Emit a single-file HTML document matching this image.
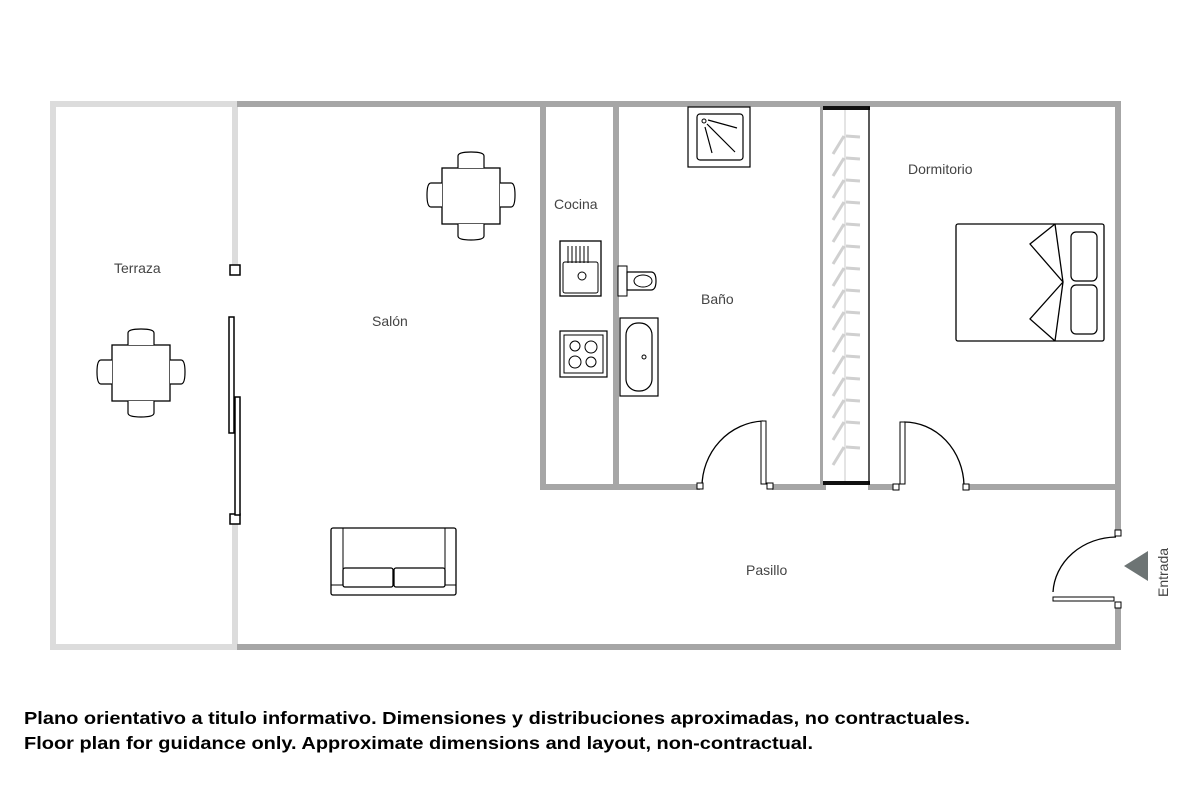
<!DOCTYPE html>
<html><head><meta charset="utf-8"><style>
html,body{margin:0;padding:0;background:#fff;}
svg{display:block;}
text{font-family:"Liberation Sans",Arial,sans-serif;}
</style></head><body>
<svg width="1200" height="800" viewBox="0 0 1200 800" xmlns="http://www.w3.org/2000/svg">
<defs>
<g id="table">
  <rect x="0" y="0" width="58" height="56" fill="#fff" stroke="#000" stroke-width="1.3"/>
  <path d="M16,0 V-12 Q16,-16 29,-16 Q42,-16 42,-12 V0" fill="#fff" stroke="#000" stroke-width="1.2"/>
  <path d="M16,56 V68 Q16,72 29,72 Q42,72 42,68 V56" fill="#fff" stroke="#000" stroke-width="1.2"/>
  <path d="M0,15 H-11 Q-15,15 -15,27 Q-15,39 -11,39 H0" fill="#fff" stroke="#000" stroke-width="1.2"/>
  <path d="M58,15 H69 Q73,15 73,27 Q73,39 69,39 H58" fill="#fff" stroke="#000" stroke-width="1.2"/>
</g>
<g id="hanger">
  <path d="M833,18 L844,0 M846,0 L860,1" stroke="#d0d0d0" stroke-width="3" fill="none"/>
</g>
</defs>
<g fill="#dcdcdc">
  <rect x="50" y="101" width="190" height="6"/>
  <rect x="50" y="644" width="190" height="6"/>
  <rect x="50" y="101" width="6" height="549"/>
  <rect x="232" y="101" width="6" height="168"/>
  <rect x="232" y="524" width="6" height="126"/>
</g>
<g fill="#a6a6a6">
  <rect x="237" y="101" width="884" height="6"/>
  <rect x="237" y="644" width="884" height="6"/>
  <rect x="1115" y="101" width="6" height="432"/>
  <rect x="1115" y="608" width="6" height="42"/>
  <rect x="540" y="101" width="6" height="389"/>
  <rect x="613" y="101" width="6" height="389"/>
  <rect x="820" y="101" width="6" height="389"/>
  <rect x="540" y="484" width="160" height="6"/>
  <rect x="772" y="484" width="52" height="6"/>
  <rect x="968" y="484" width="153" height="6"/>
  <rect x="868" y="484" width="28" height="6"/>
</g>
<rect x="823" y="107" width="47" height="377" fill="#fff"/>
<rect x="823" y="106" width="47" height="4" fill="#111"/>
<rect x="823" y="481" width="47" height="4" fill="#111"/>
<line x1="869" y1="107" x2="869" y2="484" stroke="#000" stroke-width="1.3"/>
<line x1="845" y1="110" x2="845" y2="481" stroke="#c8c8c8" stroke-width="1"/>
<use href="#hanger" y="136"/><use href="#hanger" y="158"/><use href="#hanger" y="180"/>
<use href="#hanger" y="202"/><use href="#hanger" y="224"/><use href="#hanger" y="246"/>
<use href="#hanger" y="268"/><use href="#hanger" y="290"/><use href="#hanger" y="312"/>
<use href="#hanger" y="334"/><use href="#hanger" y="356"/><use href="#hanger" y="378"/>
<use href="#hanger" y="400"/><use href="#hanger" y="422"/><use href="#hanger" y="447"/>
<rect x="688" y="107" width="62" height="60" fill="#fff" stroke="#000" stroke-width="1.2"/>
<rect x="697" y="114" width="46" height="46" rx="3" fill="none" stroke="#000" stroke-width="1.2"/>
<circle cx="704" cy="121" r="2" fill="none" stroke="#000"/>
<path d="M708,120 L737,128 M707,124 L735,152 M705,127 L712,153" stroke="#000" stroke-width="1.2"/>
<rect x="560" y="241" width="41" height="55" fill="#fff" stroke="#000" stroke-width="1.3"/>
<rect x="563" y="262" width="35" height="31" rx="2" fill="none" stroke="#000"/>
<path d="M568,246 V263 M572,246 V263 M576,246 V263 M580,246 V263 M584,246 V263 M588,246 V263" stroke="#000"/>
<circle cx="582" cy="276" r="4" fill="none" stroke="#000"/>
<rect x="560" y="331" width="47" height="46" fill="#fff" stroke="#000" stroke-width="1.2"/>
<rect x="564" y="335" width="39" height="38" fill="none" stroke="#000"/>
<circle cx="575" cy="346" r="5" fill="none" stroke="#000"/><circle cx="591" cy="347" r="6" fill="none" stroke="#000"/>
<circle cx="575" cy="362" r="6" fill="none" stroke="#000"/><circle cx="591" cy="362" r="5" fill="none" stroke="#000"/>
<rect x="618" y="266" width="9" height="30" fill="#fff" stroke="#000"/>
<path d="M627,272 H651 Q656,272 656,281 Q656,290 651,290 H627 Z" fill="#fff" stroke="#000" stroke-width="1.2"/>
<ellipse cx="643" cy="281" rx="9" ry="6" fill="none" stroke="#000"/>
<rect x="620" y="318" width="38" height="78" fill="#fff" stroke="#000" stroke-width="1.2"/>
<rect x="626" y="323" width="26" height="68" rx="12" fill="none" stroke="#000" stroke-width="1.2"/>
<circle cx="644" cy="357" r="2" fill="none" stroke="#000"/>
<path d="M702,487 A64,66 0 0 1 763,421" fill="none" stroke="#000" stroke-width="1.3"/>
<rect x="761" y="421" width="5" height="63" fill="#fff" stroke="#000"/>
<rect x="697" y="483" width="6" height="6" fill="#fff" stroke="#000"/>
<rect x="767" y="483" width="6" height="6" fill="#fff" stroke="#000"/>
<path d="M904,422 A60,65 0 0 1 964,485" fill="none" stroke="#000" stroke-width="1.3"/>
<rect x="900" y="422" width="5" height="62" fill="#fff" stroke="#000"/>
<rect x="893" y="484" width="6" height="6" fill="#fff" stroke="#000"/>
<rect x="963" y="484" width="6" height="6" fill="#fff" stroke="#000"/>
<path d="M1053,592 A64,58 0 0 1 1116,537" fill="none" stroke="#000" stroke-width="1.3"/>
<rect x="1053" y="597" width="61" height="4" fill="#fff" stroke="#000"/>
<rect x="1115" y="530" width="6" height="6" fill="#fff" stroke="#000"/>
<rect x="1115" y="602" width="6" height="6" fill="#fff" stroke="#000"/>
<polygon points="1124,566 1148,551 1148,581" fill="#6d7474"/>
<text transform="translate(1168,597) rotate(-90)" font-size="14" fill="#444">Entrada</text>
<rect x="230" y="265" width="10" height="10" fill="#fff" stroke="#000" stroke-width="1.5"/>
<rect x="230" y="514" width="10" height="10" fill="#fff" stroke="#000" stroke-width="1.5"/>
<rect x="229" y="317" width="5" height="116" fill="#fff" stroke="#000" stroke-width="1.5"/>
<rect x="235" y="397" width="5" height="118" fill="#fff" stroke="#000" stroke-width="1.5"/>
<use href="#table" x="112" y="345"/>
<use href="#table" x="442" y="168"/>
<rect x="331" y="528" width="125" height="67" rx="2" fill="#fff" stroke="#000" stroke-width="1.3"/>
<path d="M343,528 V585 M445,528 V585 M331,585 H343 M445,585 H456" stroke="#000" stroke-width="1"/>
<rect x="343" y="568" width="50" height="19" rx="2" fill="none" stroke="#000" stroke-width="1.3"/>
<rect x="394" y="568" width="51" height="19" rx="2" fill="none" stroke="#000" stroke-width="1.3"/>
<rect x="956" y="224" width="148" height="117" rx="2" fill="#fff" stroke="#000" stroke-width="1.3"/>
<rect x="1071" y="232" width="26" height="49" rx="5" fill="none" stroke="#000" stroke-width="1.2"/>
<rect x="1071" y="285" width="26" height="49" rx="5" fill="none" stroke="#000" stroke-width="1.2"/>
<path d="M1055,224 L1063,282 L1055,341 M1055,224 L1030,244 L1063,282 L1030,319 L1055,341" fill="none" stroke="#000" stroke-width="1.3"/>
<g font-size="14" fill="#444">
  <text x="114" y="273">Terraza</text>
  <text x="372" y="326">Salón</text>
  <text x="554" y="209">Cocina</text>
  <text x="701" y="304">Baño</text>
  <text x="908" y="174">Dormitorio</text>
  <text x="746" y="575">Pasillo</text>
</g>
<g font-size="17.5" font-weight="bold" fill="#000">
  <text x="24" y="724" textLength="946" lengthAdjust="spacingAndGlyphs">Plano orientativo a titulo informativo. Dimensiones y distribuciones aproximadas, no contractuales.</text>
  <text x="24" y="749" textLength="789" lengthAdjust="spacingAndGlyphs">Floor plan for guidance only. Approximate dimensions and layout, non-contractual.</text>
</g>
</svg>
</body></html>
